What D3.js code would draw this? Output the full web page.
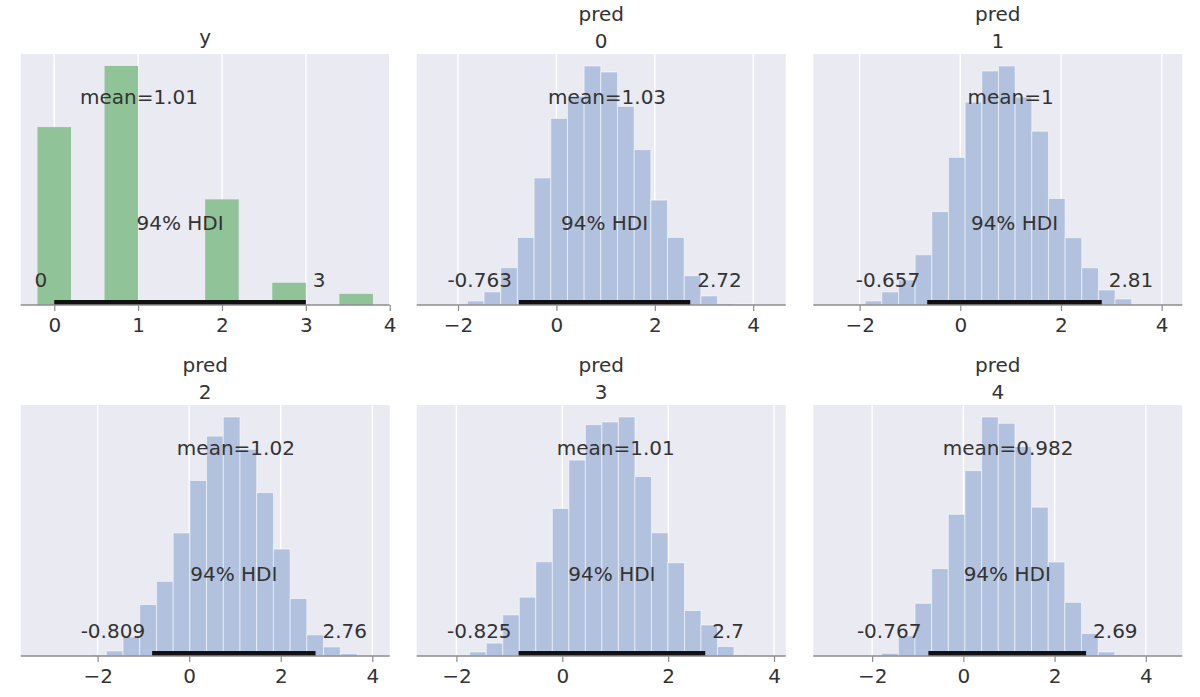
<!DOCTYPE html>
<html><head><meta charset="utf-8">
<script src="https://cdn.jsdelivr.net/npm/d3@7"></script>
<style>body{margin:0;background:#fff} text{font-family:"DejaVu Sans",sans-serif}</style>
</head><body><svg id="c" width="1200" height="697"></svg>
<script>
// ---------- data ----------
const titles = [["y"], ["pred","0"], ["pred","1"], ["pred","2"], ["pred","3"], ["pred","4"]];

// observed y (discrete) histogram
const yBinLeft  = [-0.2, 0.6, 1.8, 2.6, 3.4];
const yBinWidth = 0.4;
const yCounts   = [32, 43, 19, 4, 2];

// posterior predictive histograms (bin start, bin width, frequencies)
const predBinStart = [-1.81, -1.89, -2.175, -2.06, -1.79];
const predBinWidth = [0.339, 0.331, 0.365, 0.312, 0.365];
const pred0Counts = [4, 13, 37, 67, 126, 185, 207, 237, 231, 197, 154, 104, 67, 29, 9, 1.5, 0.8];
const pred1Counts = [4, 13, 25, 50, 93, 147, 202, 233, 238, 207, 173, 106, 67, 37, 15, 6];
const pred2Counts = [1.3, 5, 19, 51, 74, 122, 174, 218, 237, 205, 162, 106, 57, 21, 9, 2.3];
const pred3Counts = [0.7, 4, 12.7, 40.7, 58.3, 93.3, 146, 194, 229, 231.7, 236.7, 177.7, 122, 92.3, 45, 30.7, 9.3, 1.3];
const pred4Counts = [2.7, 20, 52.3, 86.7, 140.7, 184, 237.3, 231, 208, 147.7, 93.3, 53.3, 22.3, 4, 1.3];
const predCounts = [pred0Counts, pred1Counts, pred2Counts, pred3Counts, pred4Counts];

const means      = [1.01, 1.03, 1, 1.02, 1.01, 0.982];
const meanLabels = ["1.01", "1.03", "1", "1.02", "1.01", "0.982"];
const hdiLow     = [0, -0.763, -0.657, -0.809, -0.825, -0.767];
const hdiHigh    = [3, 2.72, 2.81, 2.76, 2.7, 2.69];
const hdiLowLabels  = ["0", "-0.763", "-0.657", "-0.809", "-0.825", "-0.767"];
const hdiHighLabels = ["3", "2.72", "2.81", "2.76", "2.7", "2.69"];
const hdiProbLabel = "94% HDI";

const xDomains = [[-0.4, 4.0], [-2.84, 4.66], [-2.92, 4.41], [-3.68, 4.38], [-2.75, 4.22], [-3.29, 4.80]];
const xTicks = [[0,1,2,3,4], [-2,0,2,4], [-2,0,2,4], [-2,0,2,4], [-2,0,2,4], [-2,0,2,4]];

// ---------- layout / style ----------
const colLeft = [20.7, 416.7, 813.3], panelW = 369;
const rowTop = [54, 405], panelH = 251;
const BG = "#eaeaf2", TXT = "#333333", AX = "#8c8c8c";
const GREEN = "#90c398", BLUE = "#b1c1de";
const FS = 20;

const svg = d3.select("#c");

for (let i = 0; i < 6; i++) {
  const col = i % 3, row = Math.floor(i / 3);
  const L = colLeft[col], T = rowTop[row];
  const g = svg.append("g").attr("transform", `translate(${L},${T})`);

  let bars;
  if (i === 0) {
    bars = yBinLeft.map((x0, k) => ({x0, x1: x0 + yBinWidth, v: yCounts[k]}));
  } else {
    const c = predCounts[i - 1], s = predBinStart[i - 1], w = predBinWidth[i - 1];
    bars = c.map((v, k) => ({x0: s + k * w, x1: s + (k + 1) * w, v}));
  }
  const maxV = d3.max(bars, d => d.v);
  const ymax = maxV * 1.05;

  const x = d3.scaleLinear().domain(xDomains[i]).range([0, panelW]);
  const y = d3.scaleLinear().domain([0, ymax]).range([panelH, 0]);

  const clipId = "clip" + i;
  g.append("clipPath").attr("id", clipId).append("rect")
    .attr("width", panelW).attr("height", panelH);

  g.append("rect").attr("width", panelW).attr("height", panelH).attr("fill", BG);

  // vertical grid
  g.selectAll(".grid").data(xTicks[i]).enter().append("line")
    .attr("x1", d => x(d)).attr("x2", d => x(d))
    .attr("y1", 0).attr("y2", panelH)
    .attr("stroke", "#ffffff").attr("stroke-width", 1.4);

  // histogram bars
  g.append("g").attr("clip-path", `url(#${clipId})`)
    .selectAll("rect").data(bars).enter().append("rect")
    .attr("x", d => x(d.x0)).attr("width", d => x(d.x1) - x(d.x0))
    .attr("y", d => y(d.v)).attr("height", d => y(0) - y(d.v))
    .attr("fill", i === 0 ? GREEN : BLUE)
    .attr("stroke", i === 0 ? "none" : "rgba(255,255,255,0.55)")
    .attr("stroke-width", 1);

  // HDI bar
  g.append("line").attr("clip-path", `url(#${clipId})`)
    .attr("x1", x(hdiLow[i])).attr("x2", x(hdiHigh[i]))
    .attr("y1", y(0)).attr("y2", y(0))
    .attr("stroke", "#111").attr("stroke-width", 10);

  // x axis
  const axis = d3.axisBottom(x).tickValues(xTicks[i]).tickSize(6).tickPadding(5)
    .tickFormat(d3.format("d"));
  const ax = g.append("g").attr("transform", `translate(0,${panelH})`).call(axis);
  ax.select(".domain").remove();
  ax.append("line").attr("x1", 0).attr("x2", panelW).attr("stroke", AX).attr("stroke-width", 1.6);
  ax.selectAll(".tick line").attr("stroke", AX).attr("stroke-width", 1.2);
  ax.selectAll(".tick text").attr("fill", TXT).attr("font-size", FS)
    .attr("font-family", "DejaVu Sans").attr("dy", null).attr("y", 27);

  // annotations
  const txt = (xx, yy, s, anchor) => g.append("text").attr("x", xx).attr("y", yy)
    .attr("text-anchor", anchor).attr("fill", TXT).attr("font-size", FS).text(s);
  txt(x(means[i]), y(ymax * 0.8), "mean=" + meanLabels[i], "middle");
  txt(x((hdiLow[i] + hdiHigh[i]) / 2), y(ymax * 0.3), hdiProbLabel, "middle");
  txt(x(hdiLow[i]) - 7, y(ymax * 0.07), hdiLowLabels[i], "end");
  txt(x(hdiHigh[i]) + 7, y(ymax * 0.07), hdiHighLabels[i], "start");

  // title
  const t = titles[i];
  if (t.length === 1) {
    txt(panelW / 2, -10, t[0], "middle");
  } else {
    txt(panelW / 2, -33, t[0], "middle");
    txt(panelW / 2, -6.5, t[1], "middle");
  }
}
</script></body></html>
